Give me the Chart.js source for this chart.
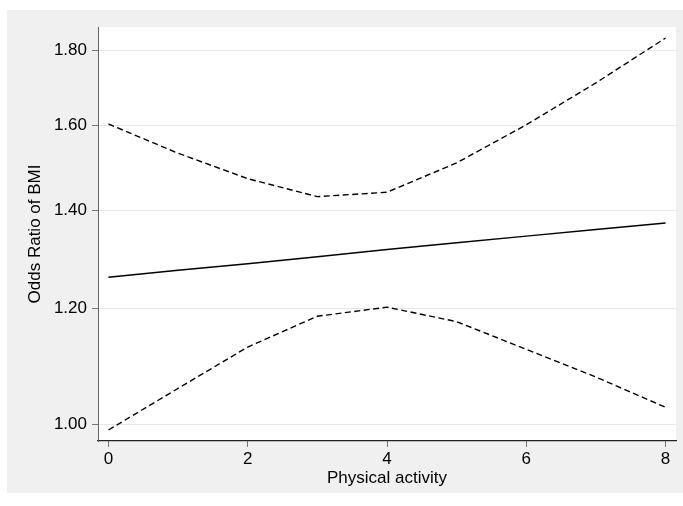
<!DOCTYPE html>
<html>
<head>
<meta charset="utf-8">
<script src="https://cdn.jsdelivr.net/npm/chart.js@4/dist/chart.umd.min.js"></script>
<style>
  html, body { margin: 0; padding: 0; background: #fff; }
  #wrap { position: relative; width: 683px; height: 506px; }
</style>
</head>
<body>
<div id="wrap"><canvas id="orChart" width="683" height="506"></canvas></div>
<script>
// Odds ratio of BMI by physical activity, with 95% CI (log y axis)
const activity = [0, 1, 2, 3, 4, 5, 6, 7, 8];
const oddsRatio = [1.260, 1.274, 1.287, 1.301, 1.316, 1.330, 1.344, 1.358, 1.372];
const upperCI   = [1.603, 1.531, 1.471, 1.430, 1.440, 1.508, 1.601, 1.710, 1.835];
const lowerCI   = [0.991, 1.058, 1.129, 1.185, 1.202, 1.175, 1.125, 1.077, 1.027];
const yTicks = [1.0, 1.2, 1.4, 1.6, 1.8];
const xTicks = [0, 2, 4, 6, 8];

const FONT = "'Liberation Sans', Arial, Helvetica, sans-serif";

const pts = (ys) => activity.map((x, i) => ({ x: x, y: ys[i] }));

// gray outer panel + white plot region, like a Stata graph
const panelBg = {
    id: 'panelBg',
    beforeDraw(chart) {
        const { ctx, chartArea: a } = chart;
        ctx.save();
        ctx.fillStyle = '#fff';
        ctx.fillRect(0, 0, chart.width, chart.height);
        ctx.fillStyle = '#f0f0f0';
        ctx.fillRect(7, 10, chart.width - 7, 483);
        ctx.fillStyle = '#fff';
        ctx.fillRect(a.left, a.top, a.right - a.left, a.bottom - a.top);
        ctx.restore();
    }
};

const lineStyle = (data, dashed) => ({
    data: data,
    borderColor: '#000',
    borderWidth: dashed ? 1.4 : 1.5,
    borderDash: dashed ? [6, 3.5] : [],
    pointRadius: 0,
    tension: 0,
    fill: false
});

new Chart(document.getElementById('orChart'), {
    type: 'line',
    data: {
        datasets: [
            Object.assign({ label: 'Odds ratio' }, lineStyle(pts(oddsRatio), false)),
            Object.assign({ label: 'Upper 95% CI' }, lineStyle(pts(upperCI), true)),
            Object.assign({ label: 'Lower 95% CI' }, lineStyle(pts(lowerCI), true))
        ]
    },
    options: {
        responsive: false,
        animation: false,
        layout: { padding: { left: 0, top: 27, right: 7, bottom: 0 } },
        plugins: { legend: { display: false }, tooltip: { enabled: false } },
        scales: {
            x: {
                type: 'linear',
                min: -0.15,
                max: 8.15,
                afterFit: (s) => { s.height = 65; },
                afterBuildTicks: (s) => { s.ticks = xTicks.map(v => ({ value: v })); },
                ticks: { color: '#000', font: { family: FONT, size: 17 }, padding: 2 },
                grid: { drawOnChartArea: false, tickColor: '#777', tickLength: 6 },
                border: { color: '#222', width: 1.2 },
                title: {
                    display: true, text: 'Physical activity', color: '#000',
                    font: { family: FONT, size: 17 }, padding: { top: 0, bottom: 17 }
                }
            },
            y: {
                type: 'logarithmic',
                min: 0.974,
                max: 1.867,
                afterFit: (s) => { s.width = 98; },
                afterBuildTicks: (s) => { s.ticks = yTicks.map(v => ({ value: v })); },
                ticks: {
                    color: '#000', font: { family: FONT, size: 17 }, padding: 5,
                    callback: (v) => Number(v).toFixed(2)
                },
                grid: { color: '#e8e8e8', lineWidth: 1, tickColor: '#777', tickLength: 6 },
                border: { color: '#666', width: 1 },
                title: {
                    display: true, text: 'Odds Ratio of BMI', color: '#000',
                    font: { family: FONT, size: 17 }, padding: { top: 25, bottom: 0 }
                }
            }
        }
    },
    plugins: [panelBg]
});
</script>
</body>
</html>
